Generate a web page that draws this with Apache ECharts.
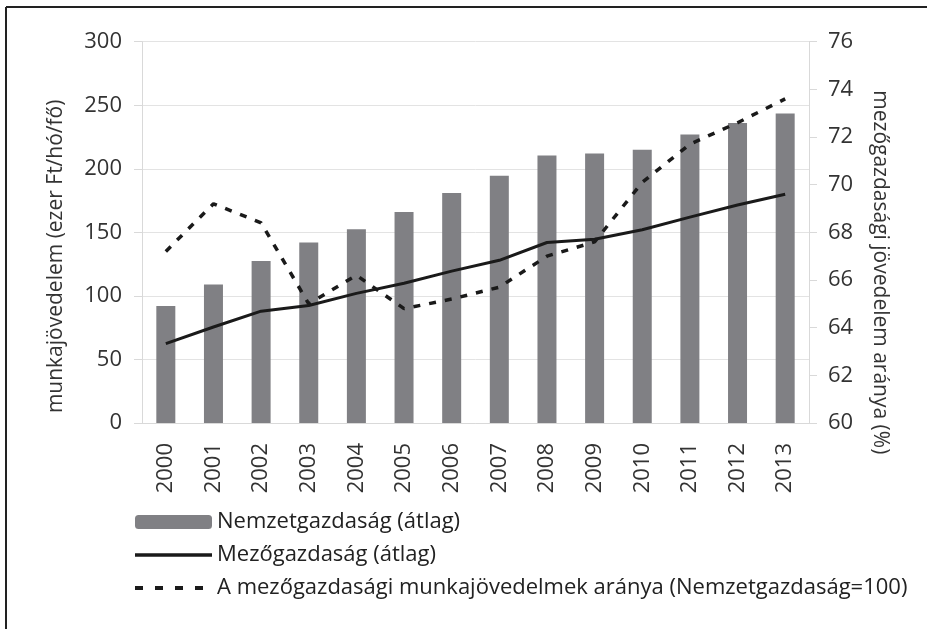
<!DOCTYPE html>
<html>
<head>
<meta charset="utf-8">
<script src="https://cdn.jsdelivr.net/npm/echarts@6/dist/echarts.min.js"></script>
<style>
  html, body { margin: 0; padding: 0; background: #fff; }
  #chart { width: 927px; height: 629px; }
</style>
</head>
<body>
<div id="chart"></div>
<script>
// évek
const years = ["2000","2001","2002","2003","2004","2005","2006","2007","2008","2009","2010","2011","2012","2013"];
// ezer Ft/hó/fő
const nemzetgazdasag = [92, 109, 127.5, 142, 152.5, 166, 181, 194.5, 210.5, 212, 215, 227, 236, 243.5];
const mezogazdasag = [62.5, 75.5, 88, 92.5, 102, 110, 119.5, 128, 142, 144.5, 152, 162, 171.5, 180];
// arány (%)
const arany = [67.2, 69.2, 68.4, 65.0, 66.2, 64.8, 65.2, 65.7, 67.0, 67.6, 70.1, 71.7, 72.6, 73.6];

const font = "Open Sans";
const txt = "#333";

let myChart = echarts.init(document.getElementById("chart"));
myChart.setOption({
  animation: false,
  backgroundColor: "#fff",
  textStyle: { fontFamily: font },
  graphic: [
    { type: "line", shape: { x1: 6, y1: 7, x2: 6, y2: 629 }, style: { stroke: "#222", lineWidth: 2 } },
    { type: "line", shape: { x1: 6, y1: 7, x2: 927, y2: 7 }, style: { stroke: "#222", lineWidth: 2 } }
  ],
  grid: { left: 142, right: 118, top: 41.7, bottom: 206 },
  legend: {
    orient: "vertical",
    left: 128,
    top: 504,
    itemWidth: 77,
    itemHeight: 14,
    itemGap: 7,
    textStyle: { fontFamily: font, fontSize: 22, lineHeight: 26, color: "#222" },
    data: [
      { name: "Nemzetgazdaság (átlag)" },
      {
        name: "Mezőgazdaság (átlag)",
        itemStyle: { opacity: 0 },
        lineStyle: { width: 3.5 }
      },
      {
        name: "A mezőgazdasági munkajövedelmek aránya (Nemzetgazdaság=100)",
        itemStyle: { opacity: 0 },
        lineStyle: { width: 4, type: [8, 12] }
      }
    ]
  },
  xAxis: {
    type: "category",
    data: years,
    axisLine: { lineStyle: { color: "#d9d9d9" } },
    axisTick: { length: 7, lineStyle: { color: "#d9d9d9" } },
    axisLabel: { rotate: 90, margin: 20, fontSize: 22, color: txt, fontFamily: font }
  },
  yAxis: [
    {
      type: "value",
      min: 0,
      max: 300,
      interval: 50,
      name: "munkajövedelem (ezer Ft/hó/fő)",
      nameLocation: "middle",
      nameRotate: 90,
      nameGap: 75,
      nameTextStyle: { fontSize: 21, color: txt, fontFamily: font, padding: [0, 48, 0, 0] },
      axisLine: { show: true, lineStyle: { color: "#d9d9d9" } },
      axisTick: { show: true, length: 8, lineStyle: { color: "#d9d9d9" } },
      axisLabel: { margin: 20, fontSize: 22, color: txt, fontFamily: font },
      splitLine: { lineStyle: { color: "#e3e3e3" } }
    },
    {
      type: "value",
      min: 60,
      max: 76,
      interval: 2,
      position: "right",
      name: "mezőgazdasági jövedelem aránya (%)",
      nameLocation: "middle",
      nameRotate: -90,
      nameGap: 60,
      nameTextStyle: { fontSize: 21, color: txt, fontFamily: font, padding: [0, 0, 0, 80] },
      axisLine: { show: true, lineStyle: { color: "#d9d9d9" } },
      axisTick: { show: true, length: 8, lineStyle: { color: "#d9d9d9" } },
      axisLabel: { margin: 19, fontSize: 22, color: txt, fontFamily: font },
      splitLine: { show: false }
    }
  ],
  series: [
    {
      name: "Nemzetgazdaság (átlag)",
      type: "bar",
      yAxisIndex: 0,
      barWidth: 19,
      itemStyle: { color: "#808084" },
      data: nemzetgazdasag
    },
    {
      name: "Mezőgazdaság (átlag)",
      type: "line",
      yAxisIndex: 0,
      symbol: "none",
      z: 3,
      lineStyle: { color: "#1a1a1a", width: 3 },
      itemStyle: { color: "#1a1a1a" },
      data: mezogazdasag
    },
    {
      name: "A mezőgazdasági munkajövedelmek aránya (Nemzetgazdaság=100)",
      type: "line",
      yAxisIndex: 1,
      symbol: "none",
      z: 4,
      lineStyle: { color: "#1a1a1a", width: 3.5, type: [7, 9] },
      itemStyle: { color: "#1a1a1a" },
      data: arany
    }
  ]
});
</script>
</body>
</html>
